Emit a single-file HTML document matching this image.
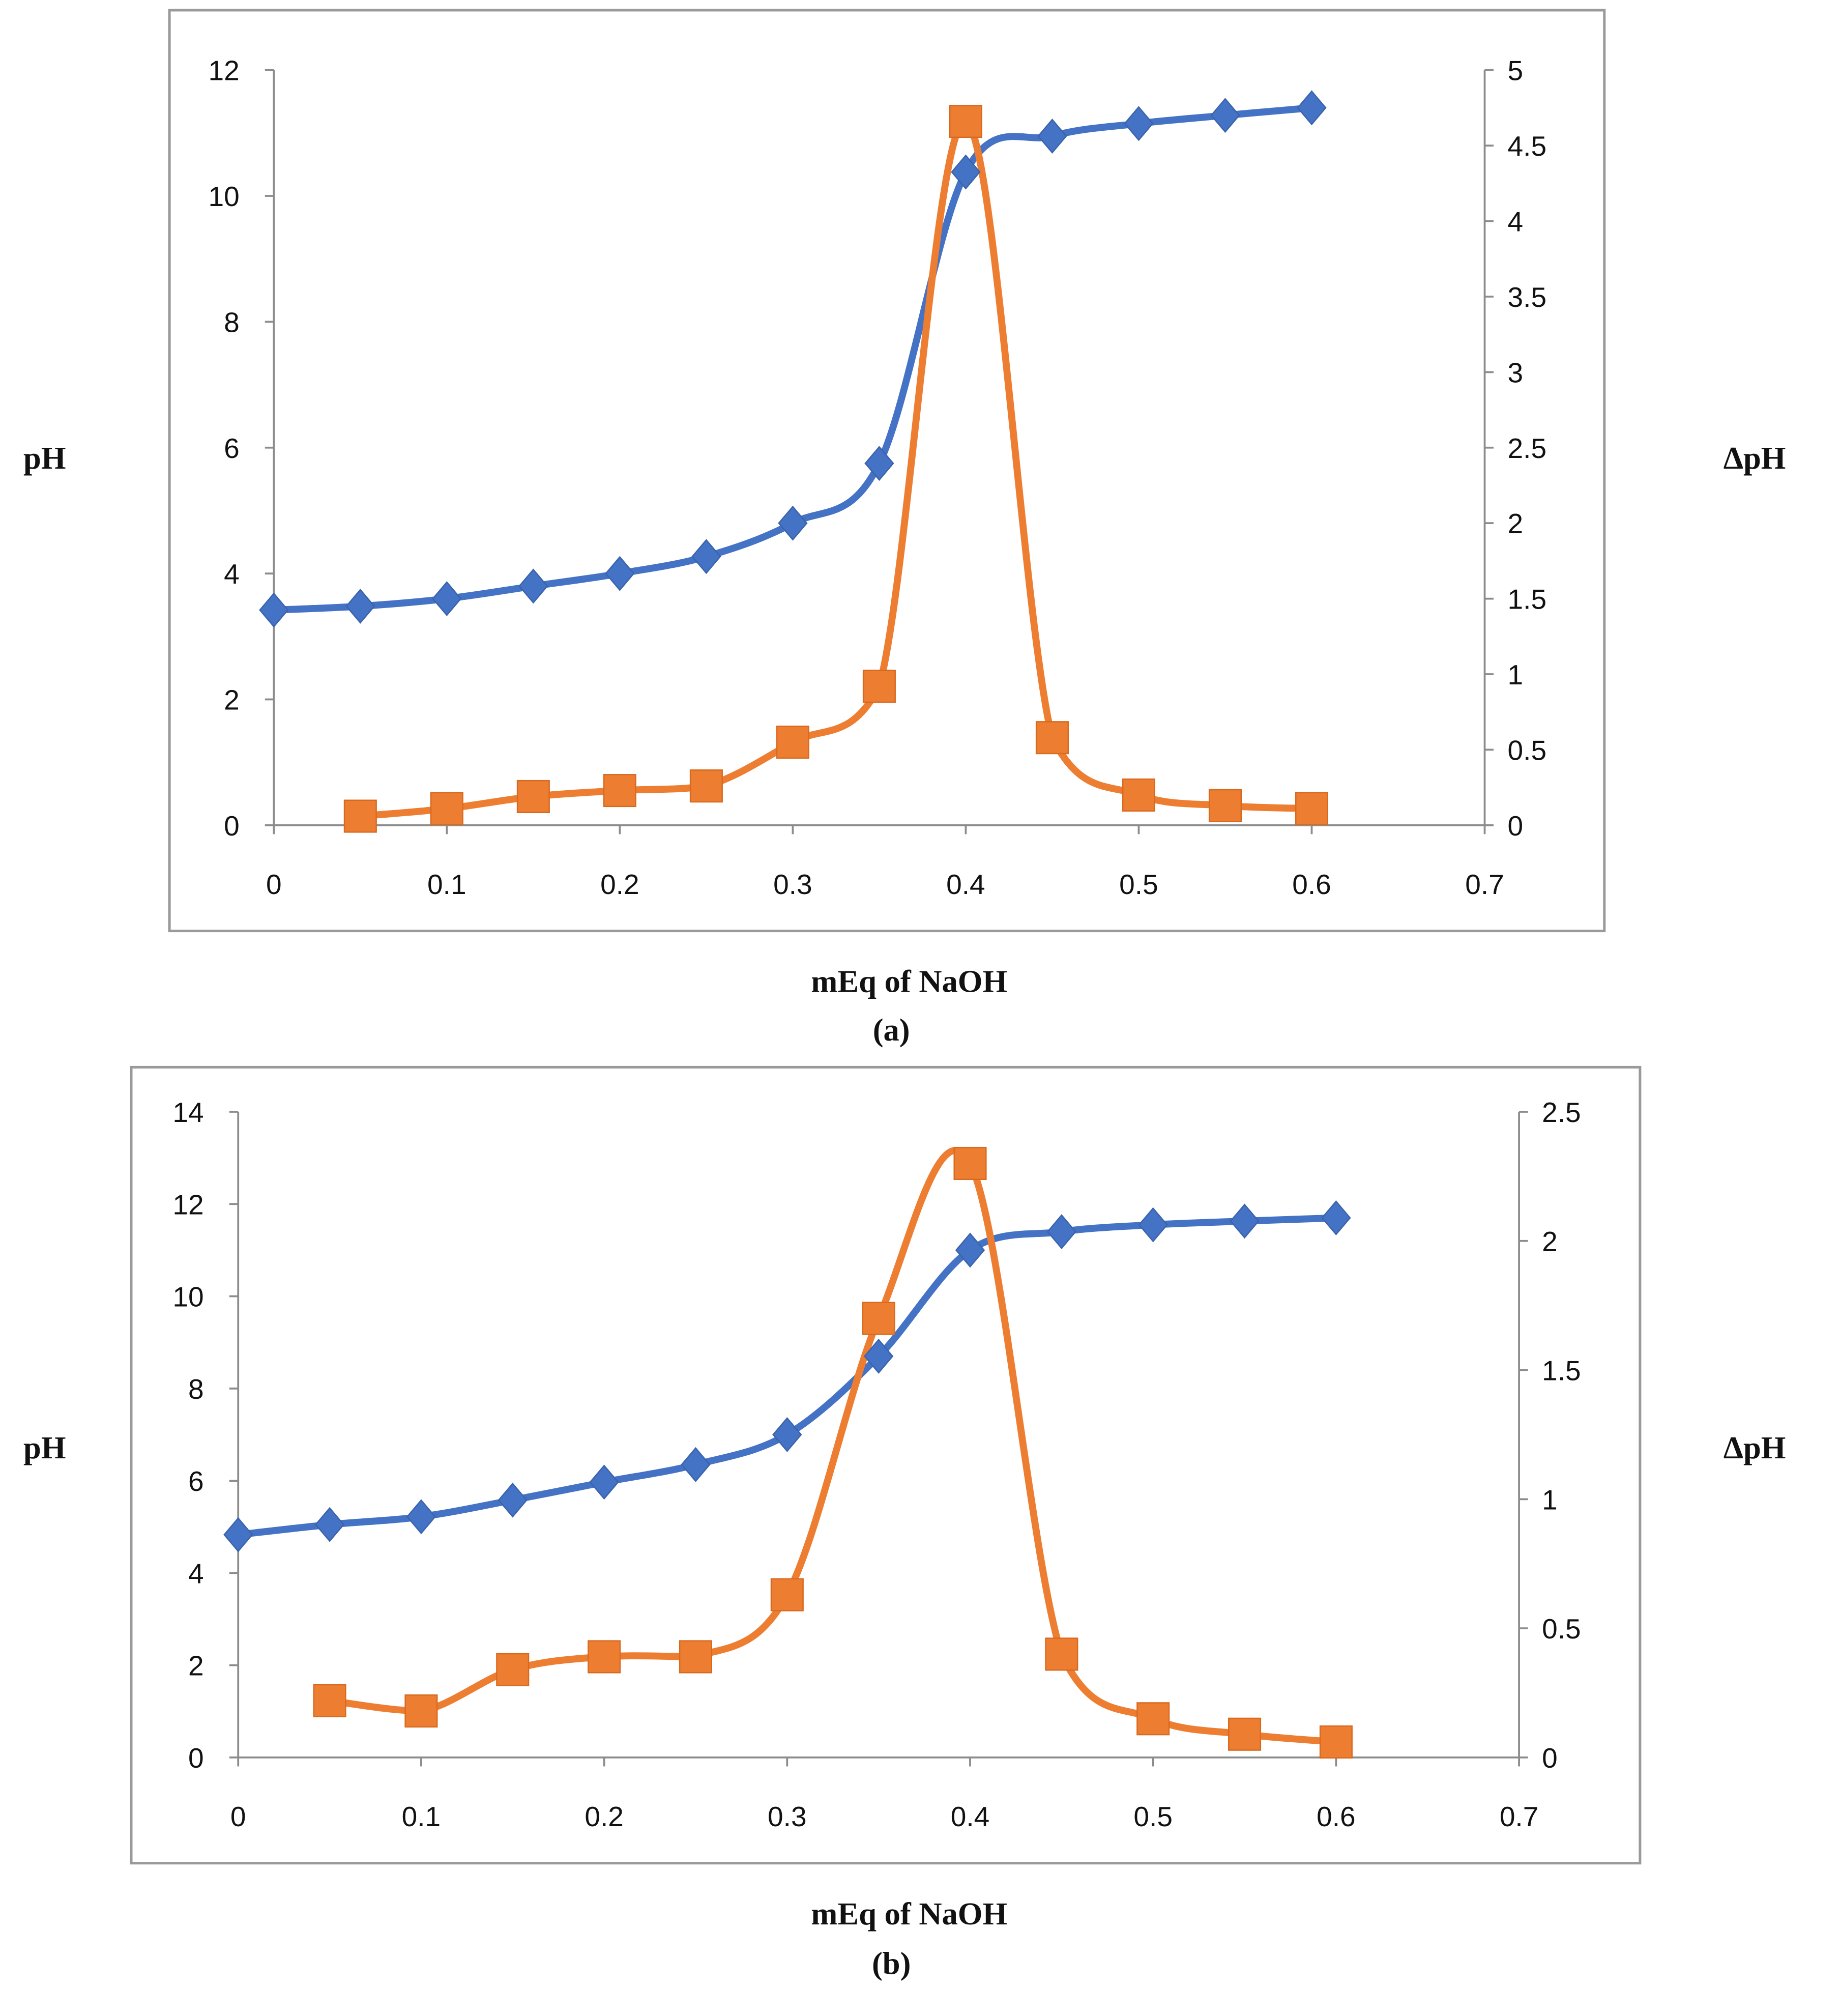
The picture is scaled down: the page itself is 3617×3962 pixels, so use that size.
<!DOCTYPE html>
<html><head><meta charset="utf-8"><style>html,body{margin:0;padding:0;background:#fff}svg{display:block}</style></head>
<body>
<svg id="fig" width="3617" height="3962" viewBox="0 0 1445 1583" xmlns="http://www.w3.org/2000/svg" font-family="'Liberation Sans', sans-serif">
<rect width="1445" height="1583" fill="#fff"/>
</svg>
<script>
const xVals = [0,0.05,0.1,0.15,0.2,0.25,0.3,0.35,0.4,0.45,0.5,0.55,0.6];
const phA = [3.42,3.48,3.6,3.8,4.0,4.27,4.8,5.75,10.38,10.95,11.15,11.28,11.4];
const dxVals = [0.05,0.1,0.15,0.2,0.25,0.3,0.35,0.4,0.45,0.5,0.55,0.6];
const dphA = [0.06,0.11,0.19,0.23,0.26,0.55,0.92,4.66,0.58,0.2,0.13,0.11];
const phB = [4.83,5.05,5.22,5.58,5.97,6.35,7.0,8.7,11.0,11.4,11.55,11.63,11.7];
const dphB = [0.22,0.18,0.34,0.39,0.39,0.63,1.7,2.3,0.4,0.15,0.09,0.06];
const xTicks = ['0','0.1','0.2','0.3','0.4','0.5','0.6','0.7'];
const leftTicksA = ['0','2','4','6','8','10','12'];
const rightTicksA = ['0','0.5','1','1.5','2','2.5','3','3.5','4','4.5','5'];
const leftTicksB = ['0','2','4','6','8','10','12','14'];
const rightTicksB = ['0','0.5','1','1.5','2','2.5'];

const NS='http://www.w3.org/2000/svg';
const svg=document.getElementById('fig');
function mk(tag,attrs,parent,text){const e=document.createElementNS(NS,tag);for(const k in attrs)e.setAttribute(k,attrs[k]);if(text!==undefined)e.textContent=text;(parent||svg).appendChild(e);return e;}
function smooth(pts){let d='M'+pts[0][0]+','+pts[0][1];for(let i=0;i<pts.length-1;i++){const p0=pts[Math.max(i-1,0)],p1=pts[i],p2=pts[i+1],p3=pts[Math.min(i+2,pts.length-1)];const t=1/6;const lim=Math.max(p1[1],p2[1]);
let c1y=Math.min(p1[1]+(p2[1]-p0[1])*t,lim),c2y=Math.min(p2[1]-(p3[1]-p1[1])*t,lim);
d+=' C'+(p1[0]+(p2[0]-p0[0])*t)+','+c1y+' '+(p2[0]-(p3[0]-p1[0])*t)+','+c2y+' '+p2[0]+','+p2[1];}return d;}

function chart(cfg,tag){
  const g=mk('g',{});
  
  
  const fr=mk('rect',{x:cfg.fx,y:cfg.fy,width:cfg.fw,height:cfg.fh,fill:'none',stroke:'#9a9a9a','stroke-width':2},g);
  
  
  const X=v=>cfg.x0+(cfg.x1-cfg.x0)*v/0.7;
  const YL=v=>cfg.y0-(cfg.y0-cfg.y1)*v/cfg.lmax;
  const YR=v=>cfg.y0-(cfg.y0-cfg.y1)*v/cfg.rmax;
  const ax=mk('g',{stroke:'#8c8c8c','stroke-width':1.5},g);
  
  
  mk('line',{x1:cfg.x0,y1:cfg.y0,x2:cfg.x1,y2:cfg.y0},ax);
  mk('line',{x1:cfg.x0,y1:cfg.y0,x2:cfg.x0,y2:cfg.y1},ax);
  mk('line',{x1:cfg.x1,y1:cfg.y0,x2:cfg.x1,y2:cfg.y1},ax);
  xTicks.forEach((t,i)=>{const x=X(parseFloat(t));mk('line',{x1:x,y1:cfg.y0,x2:x,y2:cfg.y0+7},ax);
    const e=mk('text',{x:x,y:cfg.y0+54,'text-anchor':'middle','font-size':22,fill:'#111'},g,t);
    
    });
  cfg.lt.forEach(t=>{const y=YL(parseFloat(t));mk('line',{x1:cfg.x0-7,y1:y,x2:cfg.x0,y2:y},ax);
    const e=mk('text',{x:cfg.x0-27,y:y+8,'text-anchor':'end','font-size':22,fill:'#111'},g,t);
    
    });
  cfg.rt.forEach(t=>{const y=YR(parseFloat(t));mk('line',{x1:cfg.x1,y1:y,x2:cfg.x1+7,y2:y},ax);
    const e=mk('text',{x:cfg.x1+18,y:y+8,'text-anchor':'start','font-size':22,fill:'#111'},g,t);
    
    });
  const bp=xVals.map((v,i)=>[X(v),YL(cfg.ph[i])]);
  const op=dxVals.map((v,i)=>[X(v),YR(cfg.dph[i])]);
  const bl=mk('path',{d:smooth(bp),fill:'none',stroke:'#4472C4','stroke-width':5.5},g);
  
  
  const ol=mk('path',{d:smooth(op),fill:'none',stroke:'#ED7D31','stroke-width':5.5},g);
  
  
  bp.forEach(p=>{const m=mk('polygon',{points:`${p[0]},${p[1]-13} ${p[0]+11},${p[1]} ${p[0]},${p[1]+13} ${p[0]-11},${p[1]}`,fill:'#4472C4',stroke:'#3a63ad','stroke-width':1},g);
    
    });
  op.forEach(p=>{const m=mk('rect',{x:p[0]-12.5,y:p[1]-12.5,width:25,height:25,fill:'#ED7D31',stroke:'#d86a20','stroke-width':1},g);
    
    });
  const serif="'Liberation Serif', serif";
  const a=mk('text',{x:35,y:cfg.midY+8,'text-anchor':'middle','font-size':25,'font-weight':'bold','font-family':serif,fill:'#111'},g,'pH');
  
  
  const b=mk('text',{x:1378,y:cfg.midY+8,'text-anchor':'middle','font-size':25,'font-weight':'bold','font-family':serif,fill:'#111'},g,'ΔpH');
  
  
  const c=mk('text',{x:714,y:cfg.xtY,'text-anchor':'middle','font-size':25,'font-weight':'bold','font-family':serif,fill:'#111'},g,'mEq of NaOH');
  
  
  const d=mk('text',{x:700,y:cfg.capY,'text-anchor':'middle','font-size':25,'font-weight':'bold','font-family':serif,fill:'#111'},g,'('+tag+')');
  
  
}
chart({fx:133,fy:8,fw:1127,fh:723,x0:215,x1:1166,y0:648,y1:55,lmax:12,rmax:5,lt:leftTicksA,rt:rightTicksA,ph:phA,dph:dphA,midY:360,xtY:779,capY:817},'a');
chart({fx:103,fy:838,fw:1185,fh:625,x0:187,x1:1193,y0:1380,y1:873,lmax:14,rmax:2.5,lt:leftTicksB,rt:rightTicksB,ph:phB,dph:dphB,midY:1137,xtY:1511,capY:1550},'b');
</script>
</body></html>
